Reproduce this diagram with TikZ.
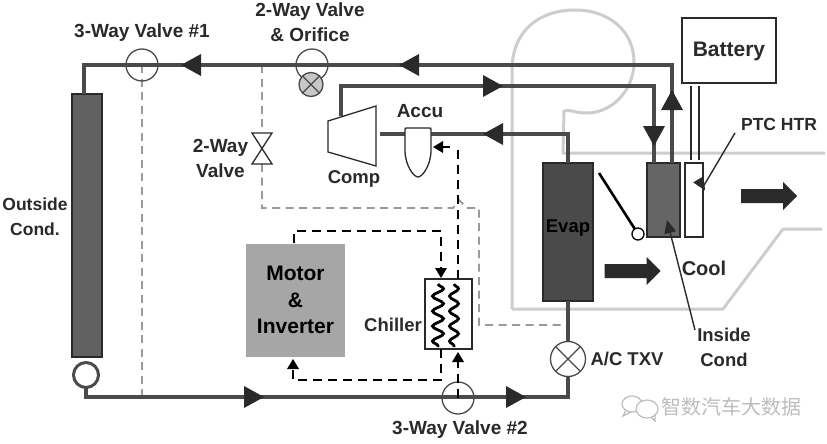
\documentclass[tikz,border=0pt]{standalone}
\usepackage{fontspec}
\setmainfont{Liberation Sans}
\newfontfamily\lblfont{Liberation Sans Bold}
\newfontfamily\cjkfont{Noto Sans CJK SC}
\usetikzlibrary{decorations.pathmorphing,calc}
\definecolor{pipe}{HTML}{4A4A4A}
\definecolor{ink}{HTML}{2A2A2A}
\definecolor{shell}{HTML}{CDCDCD}
\definecolor{bleed}{HTML}{9A9A9A}
\definecolor{markgrey}{HTML}{BDBDBD}
\newcommand{\lblsize}[1]{\lblfont\fontsize{#1}{25}\selectfont}
\tikzset{
  every node/.style={inner sep=0pt,outer sep=0pt},
  lbl/.style={font=\lblsize{18.5},text=ink,align=center},
  pipeline/.style={draw=pipe,line width=3.6pt,line join=miter},
  shellline/.style={draw=shell,line width=3pt,line join=round},
  bleedline/.style={draw=bleed,line width=1.8pt,dash pattern=on 8pt off 5.5pt},
  coolant/.style={draw=black,line width=2.2pt,dash pattern=on 9pt off 6pt},
  thinbox/.style={draw=ink,line width=1.3pt,fill=white},
  core/.style={draw=ink,line width=1.5pt,rectangle},
  valve/.style={circle,draw=pipe,line width=1.3pt,minimum size=32pt},
  coil/.style={draw=black,line width=2.8pt,decorate,decoration={snake,segment length=15pt,amplitude=5.5pt}},
  leader/.style={draw=ink,line width=1.4pt},
  headtip/.pic={\fill[ink] (-10,-11) -- (10,0) -- (-10,11) -- cycle;},
  smalltip/.pic={\fill[black] (-5,-6) -- (5,0) -- (-5,6) -- cycle;},
  leadtip/.pic={\fill[ink] (-9,-6) -- (4,0) -- (-9,6) -- cycle;},
  airflow/.pic={\fill[ink] (-28,-7) -- (14,-7) -- (14,-14) -- (28,0) -- (14,14) -- (14,7) -- (-28,7) -- cycle;}
}
\begin{document}
\begin{tikzpicture}[x=1pt,y=-1pt]
\useasboundingbox (0,0) rectangle (827,444);
\fill[white] (0,0) rectangle (827,444);

% cabin and HVAC case outline
\draw[shellline] (512,309) -- (512,68)
  .. controls (513,30) and (540,10) .. (575,10)
  .. controls (610,10) and (634,32) .. (634,62)
  .. controls (634,92) and (610,114) .. (585,113)
  .. controls (575,113) and (570,109) .. (564,111)
  -- (563,153) -- (825,153);
\draw[shellline] (512,309) -- (723,309) -- (783,229) -- (822,229);

% component bodies
\node[core,fill=black!62,minimum width=30pt,minimum height=263pt] (outcond) at (87,225.5) {};
\node[core,fill=pipe,minimum width=50pt,minimum height=138pt] (evap) at (568,232) {};
\node[core,fill=pipe!85!white,minimum width=33pt,minimum height=74pt] (incond) at (663.5,200) {};
\node[thinbox,rectangle,minimum width=18pt,minimum height=74pt] (ptc) at (694,200) {};
\node[thinbox,rectangle,minimum width=94pt,minimum height=65pt] (battery) at (729,50.5) {};
\node[rectangle,fill=black!35,minimum width=99pt,minimum height=113pt] (motor) at (295.5,300.5) {};
\node[thinbox,rectangle,minimum width=47pt,minimum height=70pt] (chiller) at (448.5,314) {};

% junction points of the refrigerant loop
\coordinate (topleft) at (84,65);
\coordinate (topright) at (672,65);
\coordinate (botleft) at (86,397);
\coordinate (botright) at (568,397);
\coordinate (compout) at (341,116);
\coordinate (compcorner) at (341,86);
\coordinate (condcorner) at (654,86);
\coordinate (evapcorner) at (568,134);
\coordinate (accuin) at (431,134);
\coordinate (accuout) at (405,134);
\coordinate (compin) at (380,134);

% bleed branches, grey dashed
\coordinate (branchA) at (262,65);
\coordinate (branchB) at (142,65);
\coordinate (branchBend) at (142,397);
\coordinate (bleedA) at (262,208);
\coordinate (bleedB) at (453,208);
\coordinate (bleedC) at (459,200);
\coordinate (bleedD) at (467,208);
\coordinate (bleedE) at (479,208);
\coordinate (bleedF) at (479,325);
\coordinate (bleedG) at (567,325);
\node[rectangle,minimum width=20pt,minimum height=31pt] (twoway) at (262,148.5) {};
\draw[bleedline] (branchB) -- (branchBend);
\draw[bleedline] (branchA) -- (twoway.north);
\draw[bleedline] (twoway.south) -- (bleedA) -- (bleedB) -- (bleedC) -- (bleedD) -- (bleedE) -- (bleedF) -- (bleedG);
\draw[thinbox] (twoway.north west) -- (twoway.north east) -- (twoway.south west) -- (twoway.south east) -- cycle;

% refrigerant lines
\draw[pipeline] (outcond.north -| topleft) -- (topleft) -- (topright) -- (incond.north -| topright);
\draw[pipeline] (compout) -- (compcorner) -- (condcorner) -- (incond.north -| condcorner);
\draw[pipeline] (evap.north) -- (evapcorner) -- (accuin);
\draw[pipeline] (accuout) -- (compin);

% receiver, expansion valve and lower line
\node[circle,draw=pipe,line width=3pt,fill=white,minimum size=25pt] (receiver) at (86,375) {};
\node[valve,minimum size=35pt,fill=white] (txv) at (568,359) {};
\draw[pipeline] (receiver.south) -- (botleft) -- (botright) -- (txv.south);
\draw[pipeline] (txv.north) -- (evap.south);
\draw[pipe,line width=1.2pt] (txv.north west) -- (txv.south east) (txv.north east) -- (txv.south west);

% valves on the loop
\node[valve] (threeA) at (142,65) {};
\node[valve] (orifice) at (312,65) {};
\node[circle,draw=pipe,line width=1.3pt,fill=black!22,minimum size=24pt] (orificeb) at (311,84.5) {};
\draw[pipe,line width=1.2pt] (orificeb.north west) -- (orificeb.south east) (orificeb.north east) -- (orificeb.south west);
\node[valve] (threeB) at (458,398) {};

% compressor and accumulator
\draw[thinbox] (328,121) -- (376,106) -- (376,166) -- (328,152) -- cycle;
\draw[thinbox] (405,130) .. controls (405,128) .. (407,128) -- (429,128) .. controls (431,128) .. (431,130)
  -- (431,150) .. controls (431,166) and (422,177) .. (418,177)
  .. controls (414,177) and (405,166) .. (405,150) -- cycle;

% coolant lines, black dashed
\coordinate (motortopout) at (294,243);
\coordinate (motorcorner) at (294,231);
\coordinate (chillerinc) at (441,231);
\coordinate (chillertop) at (441,269);
\coordinate (retcorner) at (458,149);
\coordinate (accutipstart) at (450,147);
\coordinate (chillerbotL) at (441,349);
\coordinate (lowcornerR) at (441,380);
\coordinate (lowcornerL) at (293,380);
\coordinate (motorret) at (293,368);
\draw[coolant] (motortopout) -- (motorcorner) -- (chillerinc) -- (chillertop);
\draw[coolant] (458,279) -- (retcorner);
\draw[black,line width=2.2pt] (accutipstart) -- (438,147);
\draw[coolant] (chillerbotL) -- (lowcornerR) -- (lowcornerL) -- (motorret);
\draw[coolant] (threeB.center) -- (458,358);

% heat-exchanger coils in the chiller
\draw[coil] (438,284) -- (438,347);
\draw[coil,decoration={amplitude=4.5pt}] (454,284) -- (454,347);

% flow arrowheads
\pic[rotate=180] at (191,65) {headtip};
\pic[rotate=180] at (409,65) {headtip};
\pic at (493,86) {headtip};
\pic[rotate=180] at (493,134) {headtip};
\pic[rotate=-90] at (654,136) {headtip};
\pic[rotate=90] at (672,100) {headtip};
\pic at (254,397) {headtip};
\pic at (516,397) {headtip};
\pic[rotate=-90] at (441,273) {smalltip};
\pic[rotate=180] at (438,147) {smalltip};
\pic[rotate=90] at (293,364) {smalltip};
\pic[rotate=90] at (458,357) {smalltip};

% air path
\pic at (632.5,271) {airflow};
\pic at (769,196) {airflow};
\coordinate (flapA) at (599,173);
\node[circle,draw=black,line width=1.3pt,fill=white,minimum size=12pt] (flapB) at (638,234) {};
\draw[black,line width=2.6pt] (flapA) -- (flapB);

% battery leads
\draw[ink,line width=1.3pt] (691,86) -- (691,160) (699,86) -- (699,160);

% labels
\node[lbl,font=\lblsize{19}] (l3a) at (142,33) {3-Way Valve \#1};
\node[lbl,font=\lblsize{19}] (l2a) at (310,22.5) {2-Way Valve\\\& Orifice};
\node[lbl,font=\lblsize{19}] (l2b) at (220.5,158) {2-Way\\Valve};
\node[lbl] (lcomp) at (354,179) {Comp};
\node[lbl,font=\lblsize{19}] (laccu) at (420,111) {Accu};
\node[lbl,font=\lblsize{17.5}] (loc) at (35,216.5) {Outside\\Cond.};
\node[lbl,text=black,font=\lblfont\fontsize{21}{26.5}\selectfont] (lmot) at (295.5,300) {Motor\\\&\\Inverter};
\node[lbl] (lchill) at (393,325) {Chiller};
\node[lbl,text=black] (levap) at (568,228) {Evap};
\node[lbl,font=\lblsize{20}] (lcool) at (704,268) {Cool};
\node[lbl] (lin) at (724,347) {Inside\\Cond};
\node[lbl] (ltxv) at (627,359) {A/C TXV};
\node[lbl,font=\lblsize{19}] (l3b) at (460,430) {3-Way Valve \#2};
\node[lbl,font=\lblsize{21}] (lbat) at (729,51) {Battery};
\node[lbl,font=\lblsize{17.5}] (lptc) at (779,124) {PTC HTR};

% leader lines
\coordinate (ptclead) at (735,133);
\coordinate (ptctip) at (703,187);
\coordinate (inlead) at (695,330);
\coordinate (intip) at (668,224);
\draw[leader] (ptclead) -- (ptctip);
\pic[rotate=-59] at (ptctip) {leadtip};
\draw[leader] (inlead) -- (intip);
\pic[rotate=104] at (intip) {leadtip};

% publisher mark
\draw[markgrey,line width=1.2pt] (632,404) ellipse [x radius=10,y radius=8];
\draw[markgrey,line width=1.2pt] (626,410) -- (623,416) -- (631,412);
\fill[white] (647,409) ellipse [x radius=11,y radius=9];
\draw[markgrey,line width=1.2pt] (647,409) ellipse [x radius=11,y radius=9];
\draw[markgrey,line width=1.2pt] (651,417) -- (655,421) -- (655,414);
\node[text=markgrey,font=\cjkfont\fontsize{20}{20}\selectfont] (wm) at (731,407) {智数汽车大数据};
\end{tikzpicture}
\end{document}
